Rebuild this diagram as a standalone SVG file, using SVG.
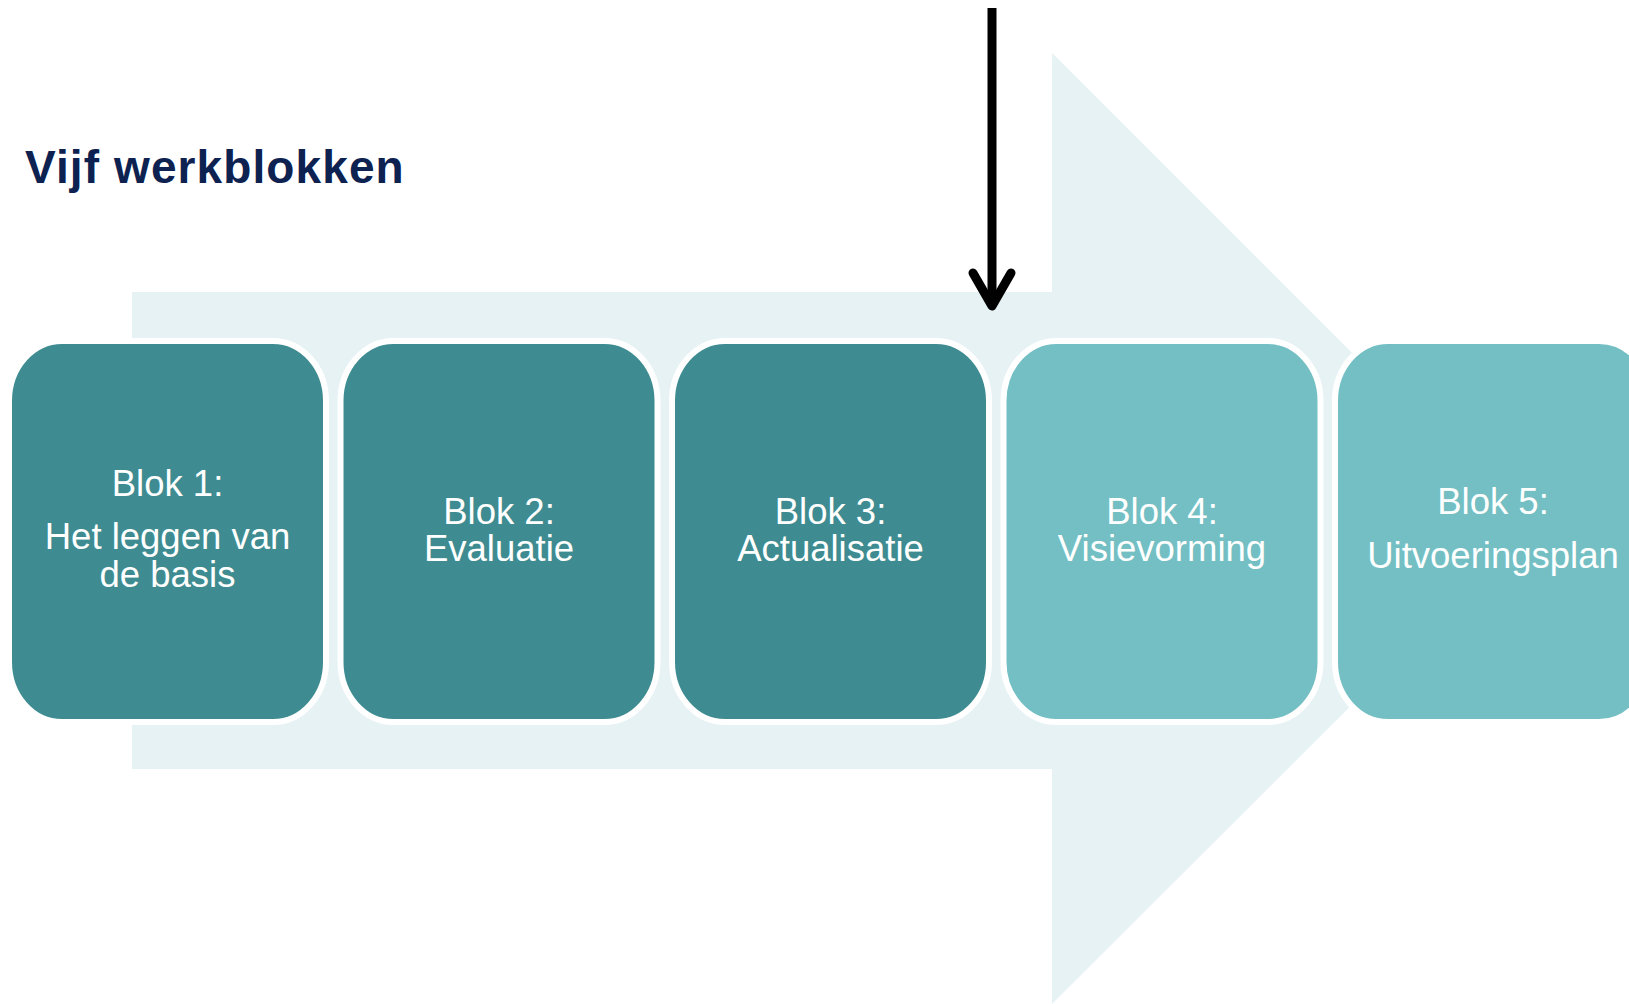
<svg xmlns="http://www.w3.org/2000/svg" width="1629" height="1004" viewBox="0 0 1629 1004">
<style>
.blk{stroke:#FFFFFF;stroke-width:6}
.dark{fill:#3E8C91}
.light{fill:#73BFC4}
.lbl{font-family:"Liberation Sans",Arial,sans-serif;font-size:36.5px;fill:#FFFFFF;text-anchor:middle}
.title{font-family:"Liberation Sans",Arial,sans-serif;font-size:46px;font-weight:bold;fill:#0D2250;letter-spacing:1.1px}
</style>
<rect width="1629" height="1004" fill="#FFFFFF"/>
<polygon id="big-arrow" points="132,292 1052,292 1052,53 1528,529 1052,1004 1052,769 132,769" fill="#E6F2F4"/>
<text class="title" x="25" y="183">Vijf werkblokken</text>
<g id="blok1">
<rect class="blk dark" x="9" y="341" width="317" height="381" rx="53" ry="60"/>
<text class="lbl" x="167.5" y="496">Blok 1:</text>
<text class="lbl" x="167.5" y="549">Het leggen van</text>
<text class="lbl" x="167.5" y="587">de basis</text>
</g>
<g id="blok2">
<rect class="blk dark" x="340.5" y="341" width="317" height="381" rx="53" ry="60"/>
<text class="lbl" x="499" y="524">Blok 2:</text>
<text class="lbl" x="499" y="561">Evaluatie</text>
</g>
<g id="blok3">
<rect class="blk dark" x="672" y="341" width="317" height="381" rx="53" ry="60"/>
<text class="lbl" x="830.5" y="524">Blok 3:</text>
<text class="lbl" x="830.5" y="561">Actualisatie</text>
</g>
<g id="blok4">
<rect class="blk light" x="1003.5" y="341" width="317" height="381" rx="53" ry="60"/>
<text class="lbl" x="1162" y="524">Blok 4:</text>
<text class="lbl" x="1162" y="561">Visievorming</text>
</g>
<g id="blok5">
<rect class="blk light" x="1335" y="341" width="317" height="381" rx="53" ry="60"/>
<text class="lbl" x="1493" y="514">Blok 5:</text>
<text class="lbl" x="1493" y="568">Uitvoeringsplan</text>
</g>
<g id="connectors" fill="none" stroke="#000000" stroke-width="9" stroke-linecap="round" stroke-linejoin="round">
<line x1="992" y1="8" x2="992" y2="305" stroke-linecap="butt"/>
<polyline points="973,273 992,306 1011,273"/>
</g>
</svg>
